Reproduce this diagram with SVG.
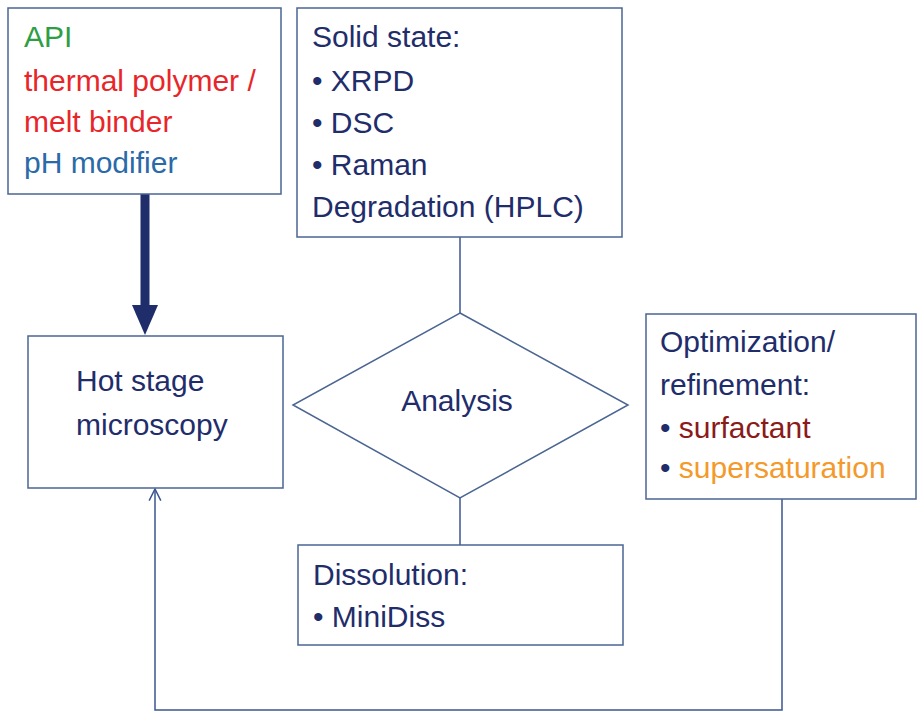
<svg xmlns="http://www.w3.org/2000/svg" width="917" height="712" viewBox="0 0 917 712">
<style>
.box{fill:#ffffff;stroke:#4a6592;stroke-width:1.5}
.ln{fill:none;stroke:#3c5590;stroke-width:1.5}
text{font-family:"Liberation Sans",Arial,sans-serif;font-size:30px;fill:#1f2d6b}
.g{fill:#2e9e44}.r{fill:#e8262a}.b{fill:#2a6aa8}.dr{fill:#8b1a1a}.o{fill:#f39a2b}
</style>
<defs>
<marker id="open" viewBox="0 0 12 12" refX="11" refY="6" markerWidth="14" markerHeight="14" markerUnits="userSpaceOnUse" orient="auto">
<path d="M1,1 L11,6 L1,11" fill="none" stroke="#3c5590" stroke-width="1.3"/>
</marker>
</defs>
<rect width="917" height="712" fill="#ffffff"/>
<g id="connectors">
<line x1="145" y1="194" x2="145" y2="308" stroke="#1f2d6b" stroke-width="9"/>
<polygon points="132,305 158,305 145,335" fill="#1f2d6b"/>
<line class="ln" x1="460" y1="237" x2="460" y2="313"/>
<line class="ln" x1="460" y1="498" x2="460" y2="545"/>
<polyline class="ln" points="782,499 782,710 155,710 155,489" marker-end="url(#open)"/>
</g>
<g id="inputs">
<rect class="box" x="8" y="8" width="273" height="186"/>
<text x="24" y="47" class="g">API</text>
<text x="24" y="91" class="r">thermal polymer /</text>
<text x="24" y="132" class="r">melt binder</text>
<text x="24" y="173" class="b">pH modifier</text>
</g>
<g id="solid-state">
<rect class="box" x="297" y="8" width="325" height="229"/>
<text x="312" y="47">Solid state:</text>
<text x="312" y="91">• XRPD</text>
<text x="312" y="133">• DSC</text>
<text x="312" y="175">• Raman</text>
<text x="312" y="217">Degradation (HPLC)</text>
</g>
<g id="hot-stage">
<rect class="box" x="28" y="336" width="255" height="152"/>
<text x="76" y="391">Hot stage</text>
<text x="76" y="435">microscopy</text>
</g>
<g id="analysis">
<polygon class="box" points="460,313 628,405 460,498 293,405"/>
<text x="457" y="411" text-anchor="middle">Analysis</text>
</g>
<g id="optimization">
<rect class="box" x="646" y="314" width="270" height="185"/>
<text x="660" y="352">Optimization/</text>
<text x="660" y="395">refinement:</text>
<text x="660" y="438">• <tspan class="dr">surfactant</tspan></text>
<text x="660" y="478">• <tspan class="o">supersaturation</tspan></text>
</g>
<g id="dissolution">
<rect class="box" x="298" y="545" width="325" height="100"/>
<text x="313" y="585">Dissolution:</text>
<text x="313" y="627">• MiniDiss</text>
</g>
</svg>
